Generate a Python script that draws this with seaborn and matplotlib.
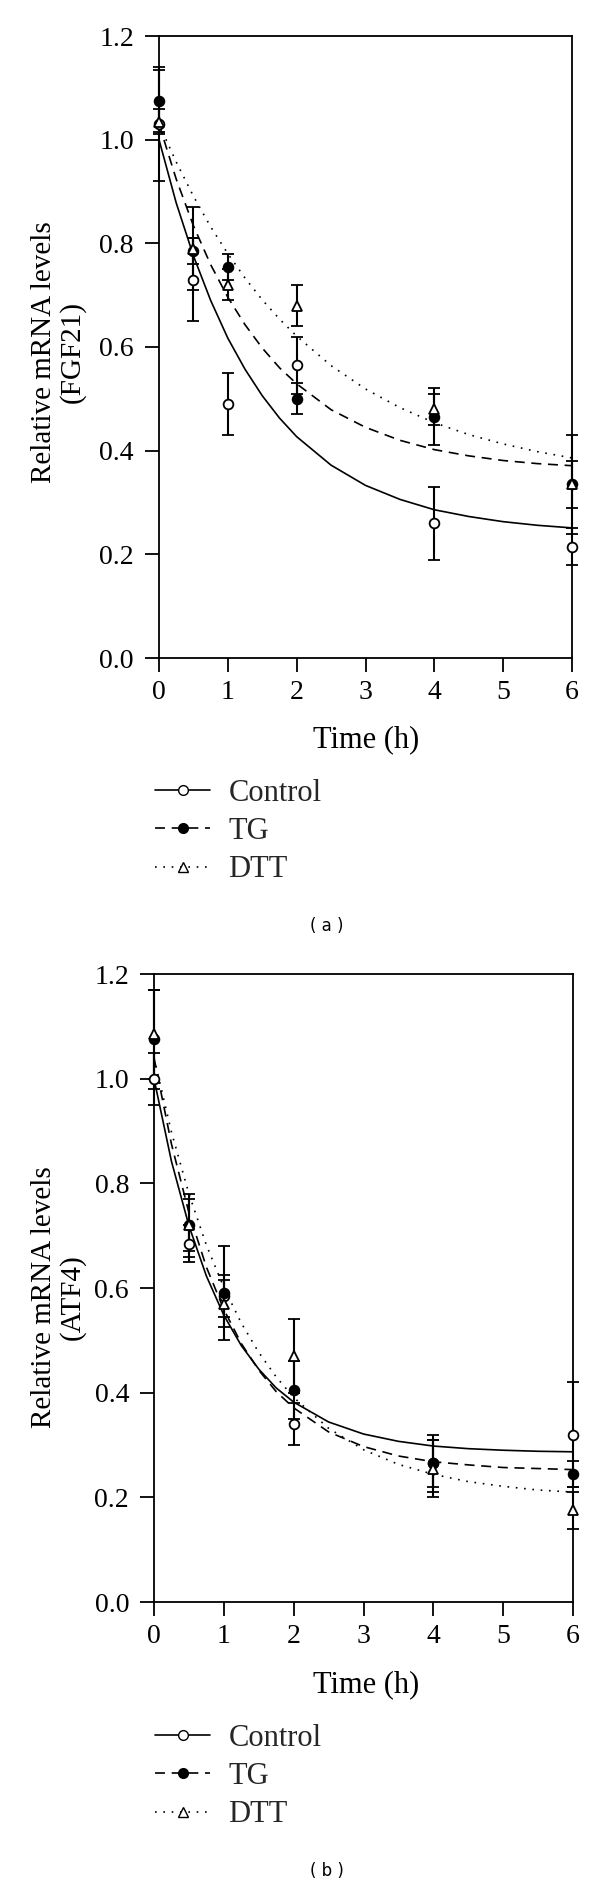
import matplotlib.pyplot as plt
import seaborn as sns
from matplotlib.lines import Line2D

# measured time points (h)
time = [0, 0.5, 1, 2, 4, 6]

# panel (a): FGF21
ctrl_a = [1.03, 0.73, 0.49, 0.565, 0.26, 0.215]
ctrl_a_err = [0.11, 0.08, 0.06, 0.055, 0.07, 0.035]
tg_a = [1.075, 0.785, 0.755, 0.50, 0.465, 0.335]
tg_a_err = [0.06, 0.025, 0.025, 0.03, 0.055, 0.095]
dtt_a = [1.035, 0.79, 0.72, 0.68, 0.48, 0.335]
dtt_a_err = [0.025, 0.08, 0.03, 0.04, 0.03, 0.045]

# panel (b): ATF4
ctrl_b = [1.0, 0.685, 0.585, 0.34, 0.265, 0.32]
ctrl_b_err = [0.05, 0.035, 0.04, 0.04, 0.055, 0.10]
tg_b = [1.075, 0.72, 0.59, 0.405, 0.265, 0.245]
tg_b_err = [0.095, 0.05, 0.09, 0.055, 0.045, 0.025]
dtt_b = [1.085, 0.72, 0.57, 0.47, 0.255, 0.175]
dtt_b_err = [0.085, 0.06, 0.045, 0.07, 0.055, 0.035]

# fitted decay curves
fit_t = [0, 0.25, 0.5, 0.75, 1, 1.25, 1.5, 1.75, 2, 2.5, 3, 3.5, 4, 4.5, 5, 5.5, 6]
ctrl_a_fit = [1.000, 0.878, 0.776, 0.690, 0.617, 0.557, 0.506, 0.463, 0.427,
              0.372, 0.333, 0.306, 0.286, 0.273, 0.263, 0.256, 0.251]
tg_a_fit = [1.030, 0.924, 0.834, 0.759, 0.696, 0.643, 0.598, 0.560, 0.529,
            0.479, 0.445, 0.420, 0.402, 0.390, 0.381, 0.375, 0.371]
dtt_a_fit = [1.030, 0.957, 0.891, 0.832, 0.780, 0.733, 0.691, 0.654, 0.621,
             0.564, 0.519, 0.483, 0.454, 0.431, 0.413, 0.398, 0.386]
ctrl_b_fit = [1.000, 0.842, 0.719, 0.623, 0.548, 0.490, 0.445, 0.409, 0.382,
              0.344, 0.321, 0.307, 0.298, 0.293, 0.290, 0.288, 0.287]
tg_b_fit = [1.040, 0.875, 0.744, 0.640, 0.559, 0.494, 0.443, 0.402, 0.371,
            0.325, 0.297, 0.279, 0.268, 0.262, 0.257, 0.255, 0.253]
dtt_b_fit = [1.040, 0.898, 0.780, 0.682, 0.601, 0.533, 0.477, 0.430, 0.391,
             0.332, 0.291, 0.263, 0.244, 0.230, 0.221, 0.214, 0.210]

labels = ['Control', 'TG', 'DTT']
markers = ['o', 'o', '^']
faces = ['white', 'black', 'white']
dashes = ['-', (0, (6, 4)), (0, (1, 4))]

sns.set_theme(style='ticks')
plt.rcParams['font.family'] = ['Liberation Serif', 'DejaVu Serif']

W, H = 600, 1886
fig = plt.figure(figsize=(W / 100, H / 100), dpi=100)
ax_a = fig.add_axes([159 / W, 1 - 658 / H, 413 / W, 622 / H])
ax_b = fig.add_axes([154 / W, 1 - 1602 / H, 419 / W, 628 / H])


def draw_panel(ax, points, errs, fits):
    for y, e, fit, m, fc, ls in zip(points, errs, fits, markers, faces, dashes):
        sns.lineplot(x=fit_t, y=fit, ax=ax, color='black', linewidth=1.2,
                     linestyle=ls, zorder=2)
        eb = ax.errorbar(time, y, yerr=e, fmt=m, mfc=fc, mec='black', mew=1.3,
                         ms=7, ecolor='black', elinewidth=1.5, capsize=4,
                         capthick=1.5, zorder=3)
        for art in eb.get_children():
            art.set_clip_on(False)
    ax.set_xlim(0, 6)
    ax.set_ylim(0, 1.2)
    ax.set_xticks(range(7))
    ax.set_yticks([0, 0.2, 0.4, 0.6, 0.8, 1.0, 1.2])
    ax.set_yticklabels(['0.0', '0.2', '0.4', '0.6', '0.8', '1.0', '1.2'])
    ax.tick_params(direction='out', length=10, width=1.3, labelsize=20,
                   color='black', labelcolor='black')
    ax.tick_params(axis='x', pad=6)
    ax.tick_params(axis='y', pad=8)
    for sp in ax.spines.values():
        sp.set_color('black')
        sp.set_linewidth(1.3)
        sp.set_visible(True)
    ax.set_xlabel('')
    ax.set_ylabel('')


draw_panel(ax_a, [ctrl_a, tg_a, dtt_a], [ctrl_a_err, tg_a_err, dtt_a_err],
           [ctrl_a_fit, tg_a_fit, dtt_a_fit])
draw_panel(ax_b, [ctrl_b, tg_b, dtt_b], [ctrl_b_err, tg_b_err, dtt_b_err],
           [ctrl_b_fit, tg_b_fit, dtt_b_fit])

handles = [Line2D([], [], color='black', linestyle=ls, linewidth=1.2, marker=m,
                  mfc=fc, mec='black', ms=7)
           for m, fc, ls in zip(markers, faces, dashes)]

for off, gene, tag in [(0, 'FGF21', '( a )'), (945, 'ATF4', '( b )')]:
    fig.text(58 / W, 1 - (352 + off) / H, 'Relative mRNA levels\n(' + gene + ')',
             rotation=90, ha='center', va='center', multialignment='center',
             fontsize=21, color='black', linespacing=1.1)
    fig.text(366 / W, 1 - (740 + off) / H, 'Time (h)', ha='center', va='center',
             fontsize=22, color='black')
    fig.legend(handles, labels, loc='upper left',
               bbox_to_anchor=(155 / W, 1 - (779 + off) / H), frameon=False,
               fontsize=22, handlelength=1.8, handletextpad=0.6,
               labelspacing=0.3, borderpad=0, borderaxespad=0)
    fig.text(327 / W, 1 - (926 + off) / H, tag, ha='center', va='center',
             fontsize=12, color='black', family=['DejaVu Sans'])

fig.savefig('out.png', dpi=100)
